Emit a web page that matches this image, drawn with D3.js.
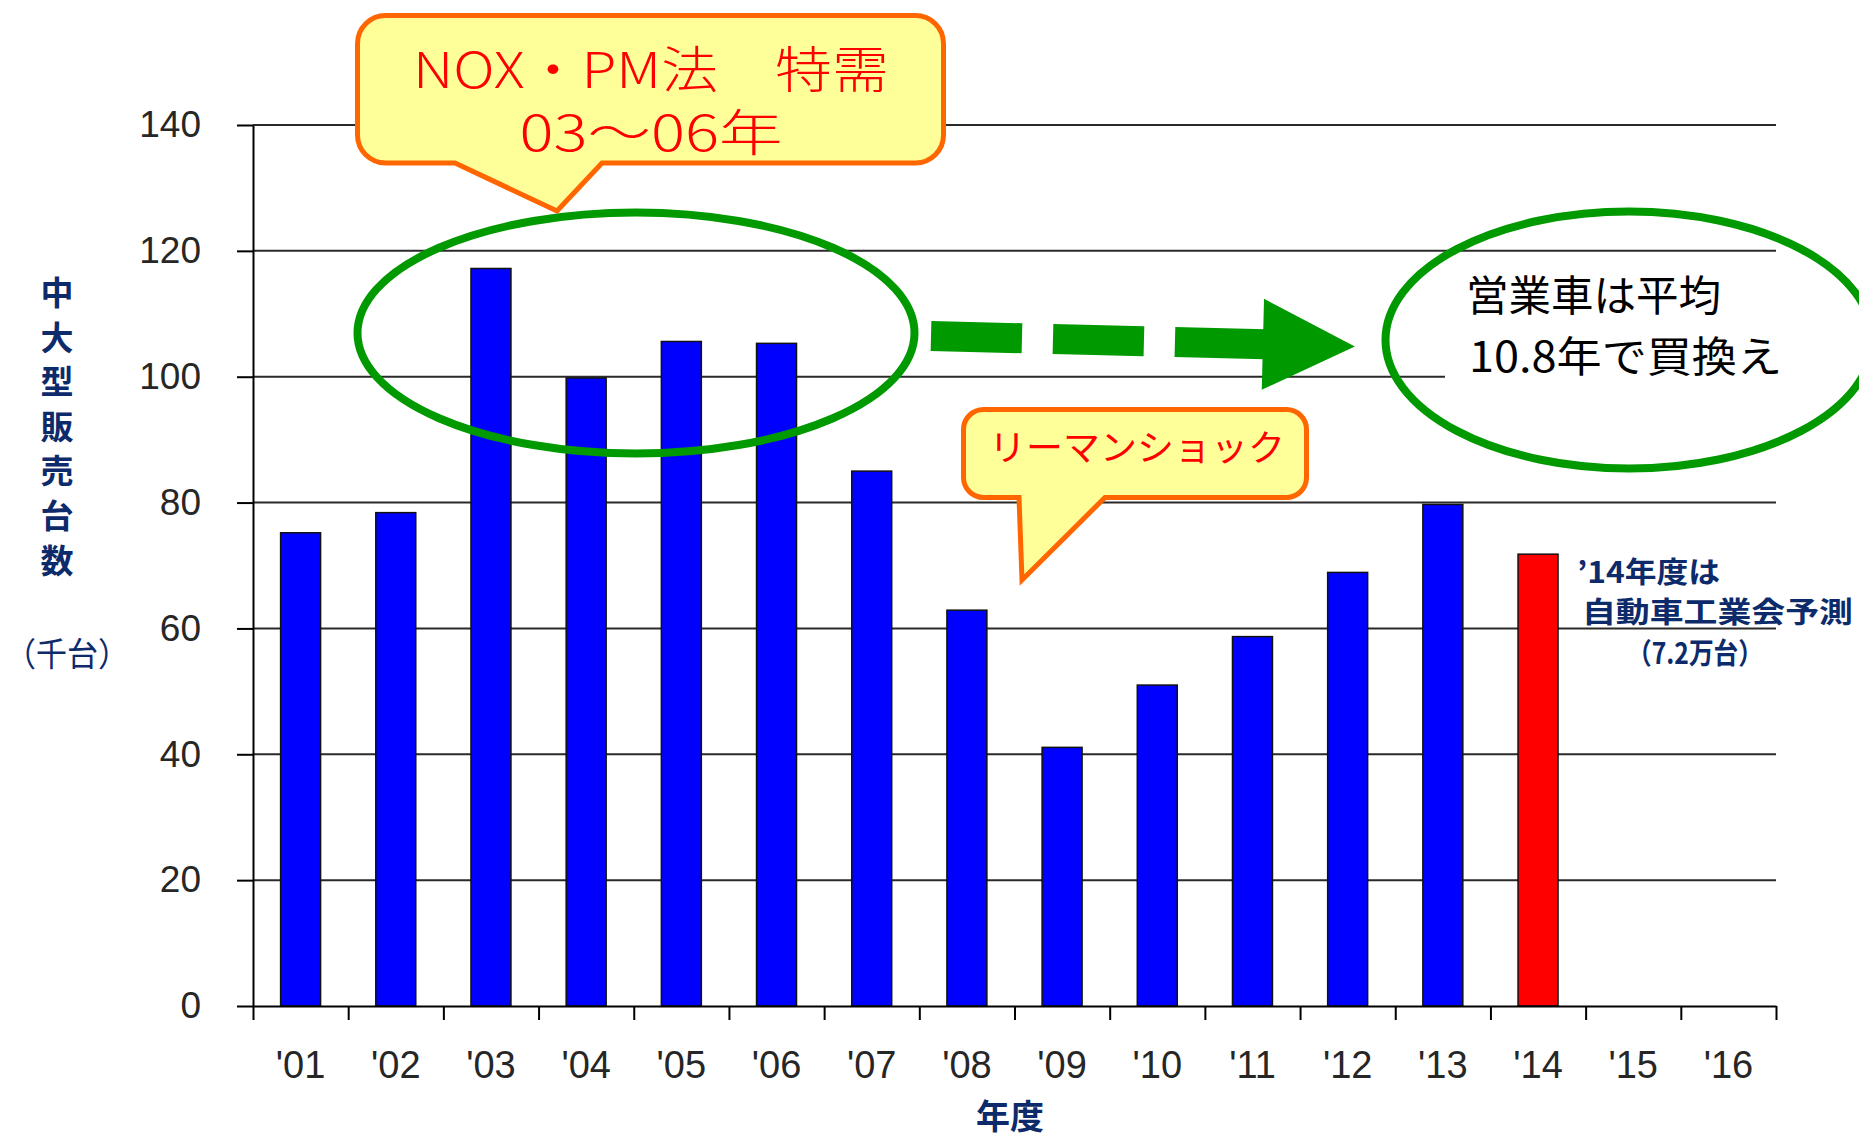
<!DOCTYPE html>
<html>
<head>
<meta charset="UTF-8">
<script src="https://d3js.org/d3.v7.min.js"></script>
<style>
body { margin: 0; background: #fff; }
.axis .domain { stroke: #000; stroke-width: 2; }
.axis line { stroke: #000; stroke-width: 2; }
.axis text { font-family: "Liberation Sans", Arial, sans-serif; fill: #262626; }
.jp { font-family: "Noto Sans CJK JP", sans-serif; }
</style>
</head>
<body>
<svg width="1859" height="1141"></svg>
<script>

// data (thousand units)
var years = ["'01", "'02", "'03", "'04", "'05", "'06", "'07", "'08", "'09", "'10", "'11", "'12", "'13", "'14", "'15", "'16"];
var sales = [75.2, 78.4, 117.2, 99.8, 105.6, 105.3, 85.0, 62.9, 41.1, 51.0, 58.7, 68.9, 79.7, 71.8];
var forecastYear = "'14";
var yTicks = [0, 20, 40, 60, 80, 100, 120, 140];
var yTitle = ["中", "大", "型", "販", "売", "台", "数"];
var forecastNote = ["’14年度は", "自動車工業会予測", "（7.2万台）"];

var navy = "#0d2b6b", green = "#009900";

var svg = d3.select("svg"),
    margin = {top: 125, right: 83, bottom: 135, left: 253},
    width = +svg.attr("width"),
    height = +svg.attr("height"),
    chartWidth = width - margin.left - margin.right,
    chartHeight = height - margin.top - margin.bottom,
    g = svg.append("g").attr("transform", "translate(" + margin.left + "," + margin.top + ")");

var x = d3.scaleBand()
    .domain(years)
    .range([0, chartWidth])
    .paddingInner(0.58)
    .paddingOuter(0.29);

var xEdge = d3.scaleLinear()
    .domain([0, years.length])
    .range([0, chartWidth]);

var y = d3.scaleLinear()
    .domain([0, 140])
    .range([chartHeight, 0]);

// gridlines
g.append("g")
  .selectAll("line")
  .data(yTicks.slice(1))
  .join("line")
    .attr("x1", 0)
    .attr("x2", chartWidth)
    .attr("y1", function(d) { return y(d); })
    .attr("y2", function(d) { return y(d); })
    .attr("stroke", "#2a2a2a")
    .attr("stroke-width", 2);

// bars
g.append("g")
  .selectAll("rect")
  .data(sales.map(function(v, i) { return {year: years[i], value: v}; }))
  .join("rect")
    .attr("x", function(d) { return x(d.year); })
    .attr("y", function(d) { return y(d.value); })
    .attr("width", x.bandwidth())
    .attr("height", function(d) { return chartHeight - y(d.value); })
    .attr("fill", function(d) { return d.year === forecastYear ? "#ff0000" : "#0000ff"; })
    .attr("stroke", "#111")
    .attr("stroke-width", 1.5);

// axes
var yAxis = g.append("g")
    .attr("class", "axis")
    .call(d3.axisLeft(y).tickValues(yTicks).tickSizeInner(16).tickSizeOuter(0).tickPadding(36));
yAxis.selectAll("text").attr("font-size", 37);
yAxis.select(".domain").attr("stroke-width", 1.5);

g.append("g")
    .attr("class", "axis")
    .attr("transform", "translate(0," + chartHeight + ")")
    .call(d3.axisBottom(xEdge).tickValues(d3.range(0, years.length + 1)).tickSizeInner(14).tickSizeOuter(0).tickFormat(""));

var xAxis = g.append("g")
    .attr("class", "axis")
    .attr("transform", "translate(0," + chartHeight + ")")
    .call(d3.axisBottom(x).tickSize(0).tickPadding(45));
xAxis.select(".domain").remove();
xAxis.selectAll("text").attr("font-size", 38);

// axis titles
svg.append("text")
    .attr("class", "jp")
    .attr("font-size", 33)
    .attr("font-weight", "bold")
    .attr("fill", navy)
    .attr("text-anchor", "middle")
  .selectAll("tspan")
  .data(yTitle)
  .join("tspan")
    .attr("x", 57)
    .attr("y", function(d, i) { return 305 + i * 44.6; })
    .text(function(d) { return d; });

svg.append("text")
    .attr("class", "jp")
    .attr("x", 67)
    .attr("y", 666)
    .attr("font-size", 33)
    .attr("fill", navy)
    .attr("text-anchor", "middle")
    .attr("textLength", 124)
    .attr("lengthAdjust", "spacingAndGlyphs")
    .text("（千台）");

svg.append("text")
    .attr("class", "jp")
    .attr("x", 1010)
    .attr("y", 1129)
    .attr("font-size", 34)
    .attr("font-weight", "bold")
    .attr("fill", navy)
    .attr("text-anchor", "middle")
    .text("年度");

// callout shape: rounded box with a pointer on the bottom edge
function callout(x0, y0, x1, y1, r, bx0, bx1, tx, ty) {
  return "M" + (x0 + r) + "," + y0 + "H" + (x1 - r) +
    "A" + r + "," + r + " 0 0 1 " + x1 + "," + (y0 + r) +
    "V" + (y1 - r) +
    "A" + r + "," + r + " 0 0 1 " + (x1 - r) + "," + y1 +
    "H" + bx1 + "L" + tx + "," + ty + "L" + bx0 + "," + y1 +
    "H" + (x0 + r) +
    "A" + r + "," + r + " 0 0 1 " + x0 + "," + (y1 - r) +
    "V" + (y0 + r) +
    "A" + r + "," + r + " 0 0 1 " + (x0 + r) + "," + y0 + "Z";
}

// 03-06 ellipse
svg.append("ellipse")
    .attr("cx", 636).attr("cy", 333).attr("rx", 278.5).attr("ry", 120.5)
    .attr("fill", "none").attr("stroke", green).attr("stroke-width", 8);

svg.append("path")
    .attr("d", callout(357.5, 15.5, 943.5, 163, 28, 455, 602, 557, 211))
    .attr("fill", "#ffff99").attr("stroke", "#ff6600").attr("stroke-width", 5);

svg.append("text").attr("class", "jp")
    .attr("x", 651).attr("y", 88)
    .attr("font-size", 50).attr("font-weight", 300).attr("fill", "#ff0000").attr("text-anchor", "middle")
    .attr("textLength", 476).attr("lengthAdjust", "spacingAndGlyphs")
    .text("NOX・PM法　特需");

svg.append("text").attr("class", "jp")
    .attr("x", 651).attr("y", 151)
    .attr("font-size", 50).attr("font-weight", 300).attr("fill", "#ff0000").attr("text-anchor", "middle")
    .attr("textLength", 263).attr("lengthAdjust", "spacingAndGlyphs")
    .text("03～06年");

// dashed arrow
var arrow = svg.append("g").attr("transform", "rotate(1.42,931,336)");
arrow.append("line")
    .attr("x1", 931).attr("x2", 1265).attr("y1", 336).attr("y2", 336)
    .attr("stroke", green).attr("stroke-width", 30).attr("stroke-dasharray", "91 31");
arrow.append("path")
    .attr("d", "M1263,290.5L1355,336L1263,381.5Z")
    .attr("fill", green);

// replacement ellipse
svg.append("rect")
    .attr("x", 1445).attr("y", 262).attr("width", 414).attr("height", 136)
    .attr("fill", "#fff");

svg.append("ellipse")
    .attr("cx", 1629).attr("cy", 340).attr("rx", 243.5).attr("ry", 128.5)
    .attr("fill", "none").attr("stroke", green).attr("stroke-width", 8);

svg.append("text").attr("class", "jp")
    .attr("x", 1466).attr("y", 311)
    .attr("font-size", 42).attr("fill", "#000")
    .attr("textLength", 255).attr("lengthAdjust", "spacingAndGlyphs")
    .text("営業車は平均");

svg.append("text").attr("class", "jp")
    .attr("x", 1469).attr("y", 372)
    .attr("font-size", 42).attr("fill", "#000")
    .attr("textLength", 313).attr("lengthAdjust", "spacingAndGlyphs")
    .text("10.8年で買換え");

// Lehman shock callout
svg.append("path")
    .attr("d", callout(963.5, 409.5, 1306.5, 497.5, 20, 1019, 1105, 1022, 580))
    .attr("fill", "#ffff99").attr("stroke", "#ff6600").attr("stroke-width", 5);

svg.append("text").attr("class", "jp")
    .attr("x", 1137).attr("y", 461)
    .attr("font-size", 36).attr("fill", "#ff0000").attr("text-anchor", "middle")
    .attr("textLength", 296).attr("lengthAdjust", "spacingAndGlyphs")
    .text("リーマンショック");

// forecast note
var noteX = [1577, 1582, 1627],
    noteY = [583, 623, 664],
    noteLen = [143, 271, 136];
svg.append("g")
  .selectAll("text")
  .data(forecastNote)
  .join("text")
    .attr("class", "jp")
    .attr("x", function(d, i) { return noteX[i]; })
    .attr("y", function(d, i) { return noteY[i]; })
    .attr("font-size", 29)
    .attr("font-weight", "bold")
    .attr("fill", navy)
    .attr("textLength", function(d, i) { return noteLen[i]; })
    .attr("lengthAdjust", "spacingAndGlyphs")
    .text(function(d) { return d; });

</script>
</body>
</html>
